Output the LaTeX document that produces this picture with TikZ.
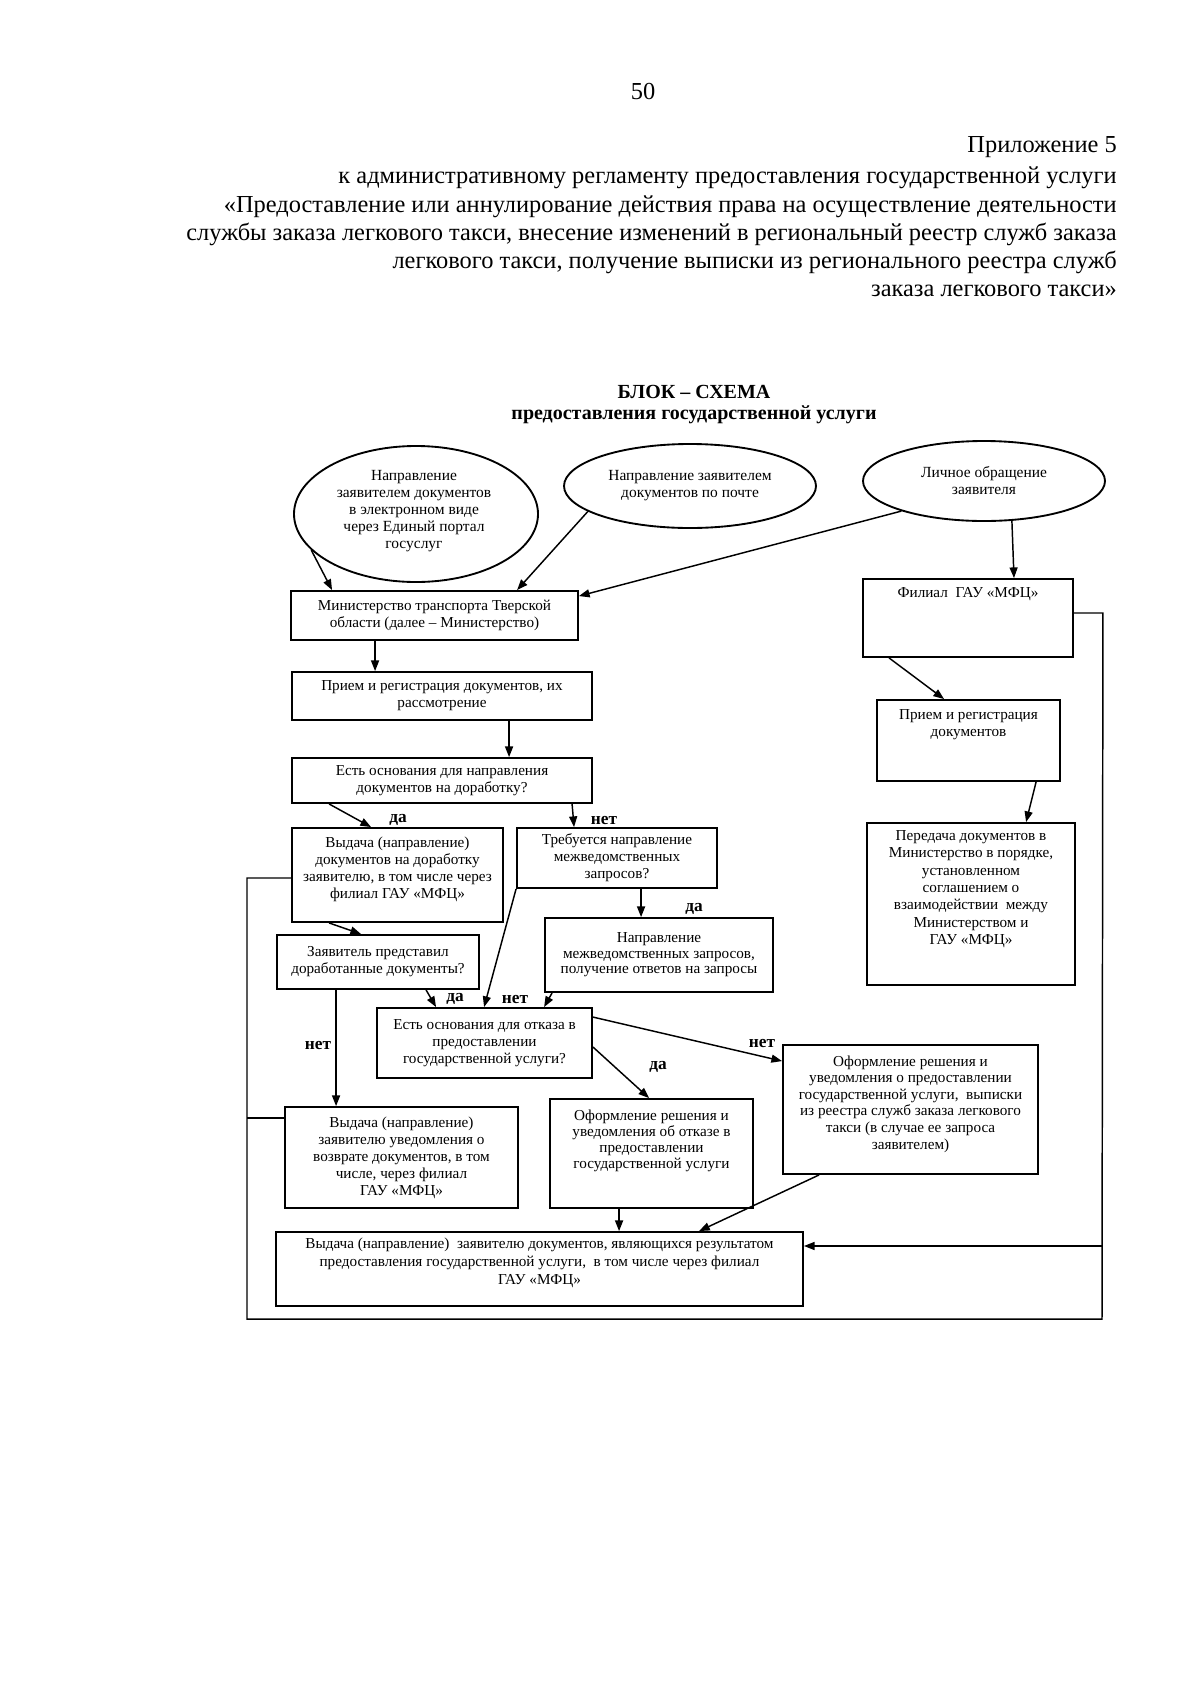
\documentclass[tikz,border=0pt]{standalone}
\usepackage{fontspec}
\setmainfont{Liberation Serif}
\usetikzlibrary{arrows.meta,shapes.geometric,calc}
\begin{document}
\begin{tikzpicture}[x=0.75pt,y=-0.75pt,
  bsz/.style 2 args={minimum width=#1*0.75pt, minimum height=#2*0.75pt},
  box/.style={draw, line width=1.4pt, inner sep=0pt, align=center, font=\fontsize{11.4}{12.75}\selectfont},
  ell/.style={draw, ellipse, line width=1.4pt, inner sep=0pt, align=center, font=\fontsize{11.6}{12.75}\selectfont},
  txt/.style={inner sep=0pt, align=center, font=\fontsize{11.4}{12.75}\selectfont},
  hdr/.style={inner sep=0pt, font=\fontsize{18.3}{21}\selectfont},
  ttl/.style={inner sep=0pt, font=\bfseries\fontsize{15}{17}\selectfont},
  lbl/.style={inner sep=0pt, font=\bfseries\fontsize{13}{15}\selectfont},
  arr/.style={-{Triangle[length=8pt,width=6pt]}, line width=1.1pt},
  ln/.style={line width=1.1pt}
]
\useasboundingbox (0,0) rectangle (1200,1699);
\fill[white] (0,0) rectangle (1200,1699);

% header
\node[hdr] (pg) at (643,92) {50};
\node[hdr, anchor=mid east] (h1) at (1117,149) {Приложение 5};
\node[hdr, anchor=mid east] (h2) at (1117,180) {к административному регламенту предоставления государственной услуги};
\node[hdr, anchor=mid east] (h3) at (1117,209) {«Предоставление или аннулирование действия права на осуществление деятельности};
\node[hdr, anchor=mid east] (h4) at (1117,237) {службы заказа легкового такси, внесение изменений в региональный реестр служб заказа};
\node[hdr, anchor=mid east] (h5) at (1117,265) {легкового такси, получение выписки из регионального реестра служб};
\node[hdr, anchor=mid east] (h6) at (1117,293) {заказа легкового такси»};

\node[ttl] (t1) at (694,392) {БЛОК – СХЕМА};
\node[ttl] (t2) at (694,415) {предоставления государственной услуги};

% ellipses
\node[ell, bsz={244}{136}] (e1) at (416,514) {};
\node[txt, font=\fontsize{11.6}{12.75}\selectfont] (e1t) at (414,511) {Направление\\заявителем документов\\в электронном виде\\через Единый портал\\госуслуг};
\node[ell, bsz={252}{84}] (e2) at (690,486) {Направление заявителем\\документов по почте};
\node[ell, bsz={242}{80}] (e3) at (984,481) {Личное обращение\\заявителя};

% left column
\node[box, bsz={287}{49}] (ministry) at (434.5,615.5) {Министерство транспорта Тверской\\области (далее – Министерство)};
\node[box, bsz={300}{48}] (priemL) at (442,696) {Прием и регистрация документов, их\\рассмотрение};
\node[box, bsz={300}{45}] (est1) at (442,780.5) {Есть основания для направления\\документов на доработку?};
\node[box, bsz={211}{94}] (vyd1) at (397.5,875) {};
\node[txt] (vyd1t) at (397.5,869) {Выдача (направление)\\документов на доработку\\заявителю, в том числе через\\филиал ГАУ «МФЦ»};
\node[box, bsz={200}{60}] (treb) at (617,858) {Требуется направление\\межведомственных\\запросов?};
\node[box, bsz={202}{54}] (zayav) at (378,962) {Заявитель представил\\доработанные документы?};
\node[box, bsz={228}{74}, font=\fontsize{11.4}{11.6}\selectfont] (naprav) at (659,955) {Направление\\межведомственных запросов,\\получение ответов на запросы};
\node[box, bsz={215}{70}] (est2) at (484.5,1043) {Есть основания для отказа в\\предоставлении\\государственной услуги?};
\node[box, bsz={233}{101}] (vyd2) at (401.5,1157.5) {Выдача (направление)\\заявителю уведомления о\\возврате документов, в том\\числе, через филиал\\ГАУ «МФЦ»};
\node[box, bsz={203}{109}] (otkaz) at (651.5,1153.5) {};
\node[txt, font=\fontsize{11.4}{12}\selectfont] (otkazt) at (651.5,1141) {Оформление решения и\\уведомления об отказе в\\предоставлении\\государственной услуги};
\node[box, bsz={255}{129}] (oform) at (910.5,1109.5) {};
\node[txt, font=\fontsize{11.4}{12.4}\selectfont] (oformt) at (910.5,1104) {Оформление решения и\\уведомления о предоставлении\\государственной услуги,\ \ выписки\\из реестра служб заказа легкового\\такси (в случае ее запроса\\заявителем)};
\node[box, bsz={527}{74}] (final) at (539.5,1269) {};
\node[txt, font=\fontsize{11.4}{13.5}\selectfont] (finalt) at (539.5,1263) {Выдача (направление)\ \ заявителю документов, являющихся результатом\\предоставления государственной услуги,\ \ в том числе через филиал\\ГАУ «МФЦ»};

% right column
\node[box, bsz={210}{78}] (filial) at (968,618) {};
\node[txt] (filialt) at (968,594) {Филиал\ \ ГАУ «МФЦ»};
\node[box, bsz={183}{81}] (priemR) at (968.5,740.5) {};
\node[txt] (priemRt) at (968.5,725) {Прием и регистрация\\документов};
\node[box, bsz={208}{162}] (pered) at (971,904) {};
\node[txt, font=\fontsize{11.4}{13}\selectfont] (peredt) at (971,889) {Передача документов в\\Министерство в порядке,\\установленном\\соглашением о\\взаимодействии\ \ между\\Министерством и\\ГАУ «МФЦ»};

% labels
\node[lbl] (l1) at (398,820) {да};
\node[lbl] (l2) at (604,820) {нет};
\node[lbl] (l3) at (694,909) {да};
\node[lbl] (l4) at (455,999) {да};
\node[lbl] (l5) at (515,999) {нет};
\node[lbl] (l6) at (318,1045) {нет};
\node[lbl] (l7) at (658,1067) {да};
\node[lbl] (l8) at (762,1043) {нет};

% connectors
\draw[arr] (e1.199) -- ($(ministry.north west)+(42,0)$);
\draw[arr] (e2.194) -- ($(ministry.north west)+(227,0)$);
\draw[arr] (e3.200) -- ($(ministry.north east)+(0,6)$);
\draw[arr] (e3.305) -- ($(filial.north)+(46,0)$);
\draw[arr] ($(ministry.south west)+(85,0)$) -- ($(priemL.north west)+(84,0)$);
\draw[arr] ($(priemL.south west)+(218,0)$) -- ($(est1.north west)+(218,0)$);
\draw[arr] ($(est1.south west)+(38,0)$) -- ($(vyd1.north west)+(80,0)$);
\draw[arr] ($(est1.south west)+(281,0)$) -- ($(treb.north west)+(58,0)$);
\draw[arr] ($(vyd1.south west)+(38,0)$) -- ($(zayav.north west)+(85,0)$);
\draw[arr] ($(treb.south west)+(125,0)$) -- ($(naprav.north west)+(97,0)$);
\draw[arr] ($(zayav.south west)+(150,0)$) -- ($(est2.north west)+(60,0)$);
\draw[arr] (treb.south west) -- ($(est2.north west)+(108,0)$);
\draw[arr] ($(naprav.south west)+(8,0)$) -- ($(est2.north west)+(168,0)$);
\draw[arr] ($(zayav.south west)+(60,0)$) -- ($(vyd2.north west)+(52,0)$);
\draw[arr] ($(est2.east)+(0,4)$) -- ($(otkaz.north west)+(100,0)$);
\draw[arr] ($(est2.north east)+(0,10)$) -- ($(oform.north west)+(0,17)$);
\draw[arr] ($(otkaz.south west)+(70,0)$) -- ($(final.north west)+(344,0)$);
\draw[arr] ($(oform.south west)+(37,0)$) -- ($(final.north west)+(424,0)$);
\draw[arr] ($(filial.south west)+(27,0)$) -- ($(priemR.north west)+(68,0)$);
\draw[arr] ($(priemR.south west)+(160,0)$) -- ($(pered.north west)+(160,0)$);

% outer loop
\coordinate (rt) at ($(filial.east)+(29,-5)$);
\coordinate (rb) at (1102,1319);
\coordinate (lb) at (247,1319);
\coordinate (lt) at (247,878);
\coordinate (lm) at (247,1118);
\coordinate (ra) at (1102,1246);
\draw[ln] ($(filial.east)+(0,-5)$) -- (rt) -- (rb) -- (lb) -- (lt) -- (vyd1.west |- lt);
\draw[ln] (lm) -- (vyd2.west |- lm);
\draw[arr] (ra) -- (final.east |- ra);
\end{tikzpicture}
\end{document}
